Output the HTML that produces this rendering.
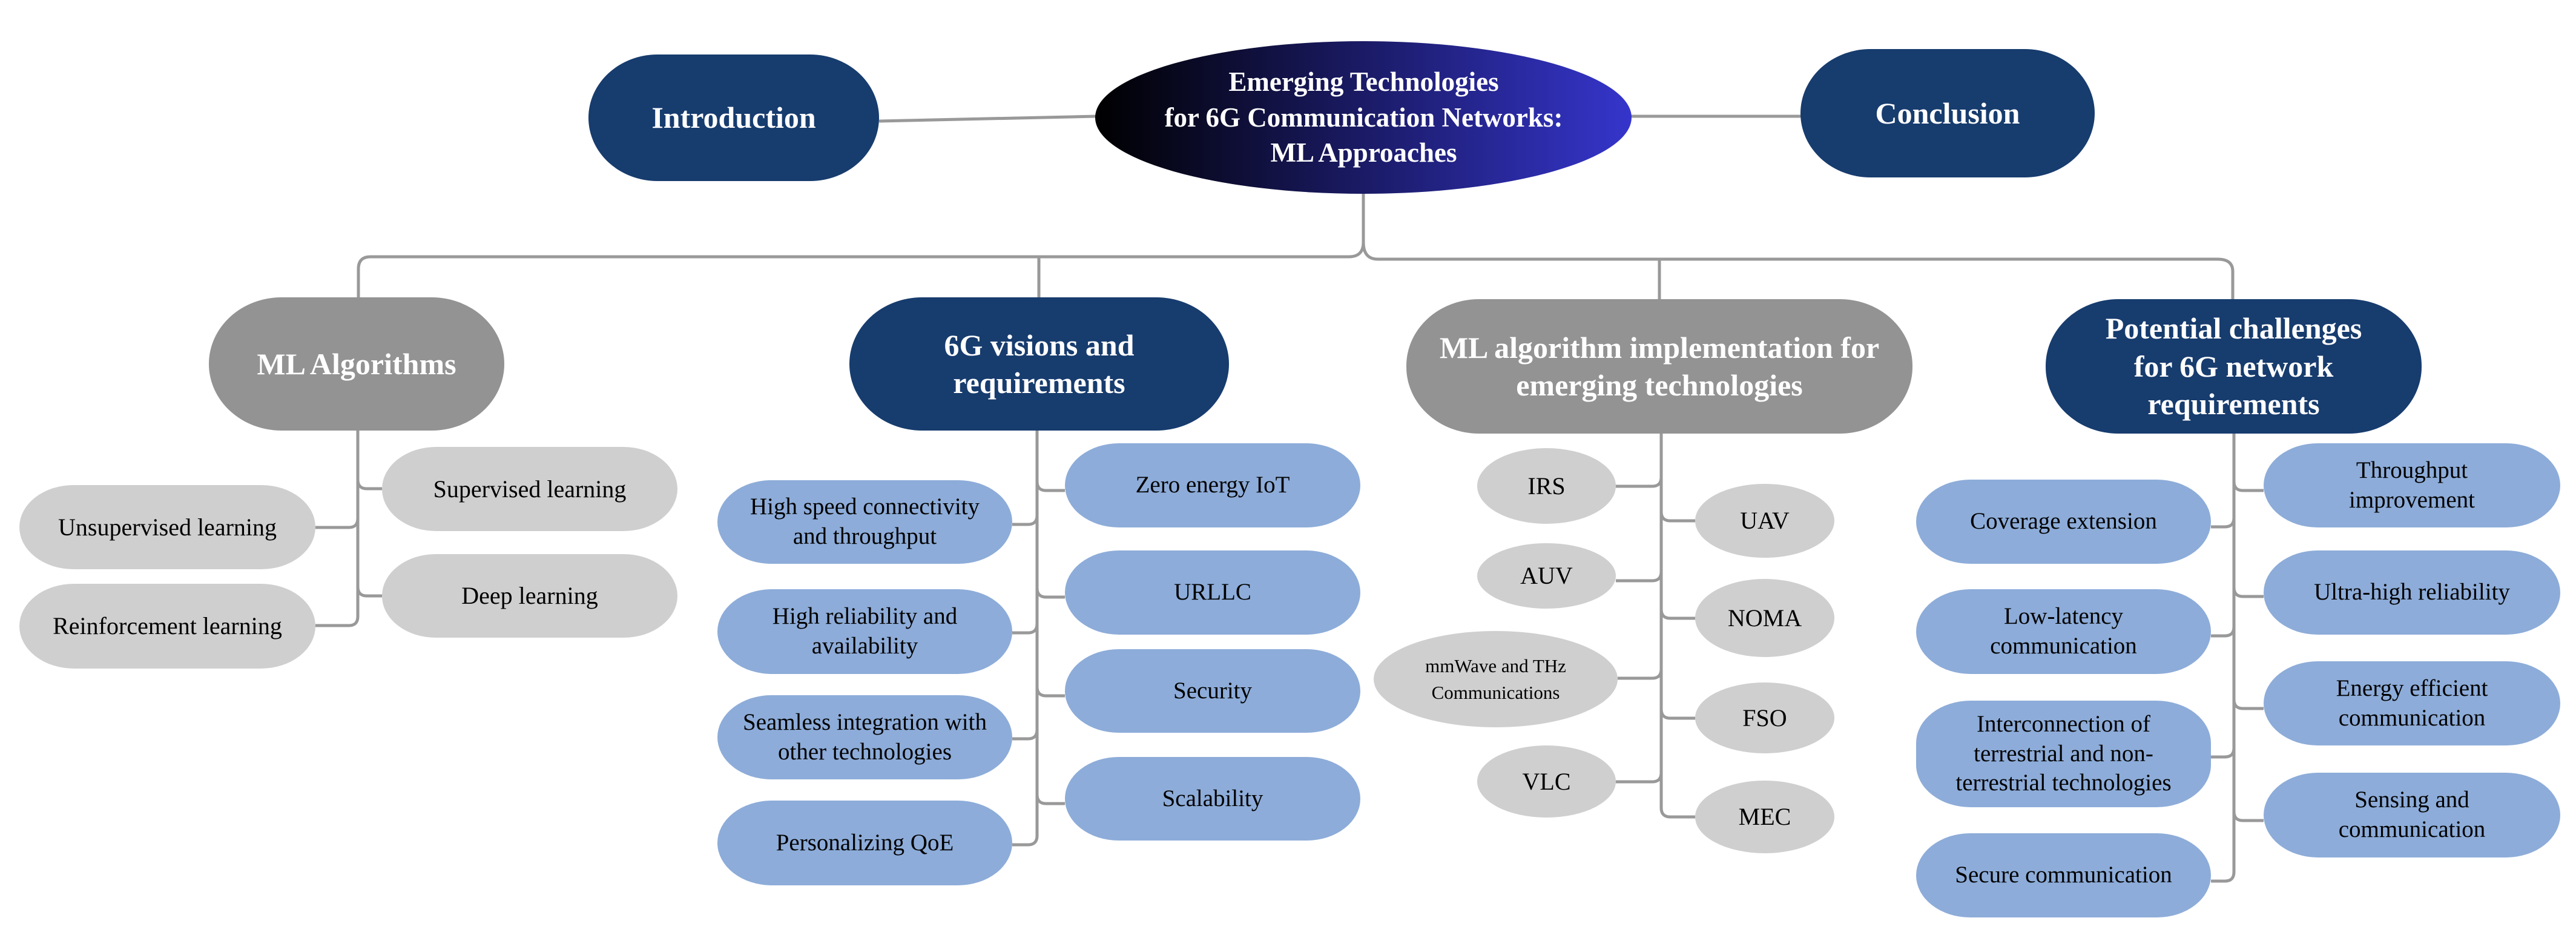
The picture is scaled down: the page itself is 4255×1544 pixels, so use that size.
<!DOCTYPE html>
<html><head><meta charset="utf-8">
<style>
html,body{margin:0;padding:0;background:#fff;}
#c{position:relative;width:4255px;height:1544px;overflow:hidden;font-family:"Liberation Serif",serif;}
.n{position:absolute;display:flex;align-items:center;justify-content:center;text-align:center;box-sizing:border-box;line-height:1.25;}
.h{color:#fff;font-weight:bold;font-size:50px;border-radius:120px/110px;}
.navy{background:#173c6e;}
.gray{background:#939393;}
.lb{background:#8dacd9;color:#000;font-size:39px;border-radius:90px/70px;}
.lg{background:#cfcfcf;color:#000;font-size:40px;border-radius:90px/70px;}
.el{background:#cfcfcf;color:#000;font-size:40px;border-radius:50%;}
svg{position:absolute;left:0;top:0;}
</style></head><body><div id="c">
<svg width="4255" height="1544" fill="none" stroke="#999" stroke-width="5">
<!-- top -->
<path d="M1452 200 L1812 192"/>
<path d="M2690 192 L2976 192"/>
<path d="M2252 318 L2252 400 Q2252 424 2228 424 L612 424 Q592 424 592 444 L592 493"/>
<path d="M2252 400 Q2252 428 2276 428 L3663 428 Q3688 428 3688 448 L3688 496"/>
<path d="M1716 424 Q1716 428 1716 444 L1716 493"/>
<path d="M2741 428 Q2741 430 2741 448 L2741 496"/>
<!-- ML algorithms -->
<path d="M591 711 L591 1018 Q591 1033 576 1033 L521 1033"/>
<path d="M591 856 Q591 871 576 871 L521 871"/>
<path d="M591 792 Q591 807 606 807 L631 807"/>
<path d="M591 969 Q591 984 606 984 L631 984"/>
<!-- 6G visions -->
<path d="M1713 711 L1713 1380 Q1713 1395 1698 1395 L1672 1395"/>
<path d="M1713 851 Q1713 866 1698 866 L1672 866"/>
<path d="M1713 1030 Q1713 1045 1698 1045 L1672 1045"/>
<path d="M1713 1205 Q1713 1220 1698 1220 L1672 1220"/>
<path d="M1713 795 Q1713 810 1728 810 L1759 810"/>
<path d="M1713 971 Q1713 986 1728 986 L1759 986"/>
<path d="M1713 1134 Q1713 1149 1728 1149 L1759 1149"/>
<path d="M1713 1312 Q1713 1327 1728 1327 L1759 1327"/>
<!-- ML impl -->
<path d="M2744 716 L2744 1334 Q2744 1349 2759 1349 L2800 1349"/>
<path d="M2744 788 Q2744 803 2729 803 L2669 803"/>
<path d="M2744 944 Q2744 959 2729 959 L2669 959"/>
<path d="M2744 1105 Q2744 1120 2729 1120 L2672 1120"/>
<path d="M2744 1276 Q2744 1291 2729 1291 L2669 1291"/>
<path d="M2744 845 Q2744 860 2759 860 L2800 860"/>
<path d="M2744 1006 Q2744 1021 2759 1021 L2800 1021"/>
<path d="M2744 1171 Q2744 1186 2759 1186 L2800 1186"/>
<!-- Potential -->
<path d="M3690 716 L3690 1440 Q3690 1455 3675 1455 L3652 1455"/>
<path d="M3690 855 Q3690 870 3675 870 L3652 870"/>
<path d="M3690 1035 Q3690 1050 3675 1050 L3652 1050"/>
<path d="M3690 1235 Q3690 1250 3675 1250 L3652 1250"/>
<path d="M3690 795 Q3690 810 3705 810 L3739 810"/>
<path d="M3690 970 Q3690 985 3705 985 L3739 985"/>
<path d="M3690 1155 Q3690 1170 3705 1170 L3739 1170"/>
<path d="M3690 1340 Q3690 1355 3705 1355 L3739 1355"/>
<defs><linearGradient id="g" x1="0" x2="1" y1="0" y2="0"><stop offset="0" stop-color="#000"/><stop offset="1" stop-color="#3535cc"/></linearGradient></defs>
<ellipse cx="2252" cy="194" rx="443" ry="126" fill="url(#g)" stroke="none"/>
</svg>
<div class="n" style="left:1810px;top:68px;width:885px;height:252px;color:#fff;font-weight:bold;font-size:45px;line-height:1.3;">Emerging Technologies<br>for 6G Communication Networks:<br>ML Approaches</div>
<div class="n h navy" style="left:972px;top:90px;width:480px;height:209px;">Introduction</div>
<div class="n h navy" style="left:2974px;top:81px;width:486px;height:212px;">Conclusion</div>

<div class="n h gray" style="left:345px;top:491px;width:488px;height:220px;">ML Algorithms</div>
<div class="n h navy" style="left:1403px;top:491px;width:627px;height:220px;">6G visions and<br>requirements</div>
<div class="n h gray" style="left:2323px;top:494px;width:836px;height:222px;">ML algorithm implementation for<br>emerging technologies</div>
<div class="n h navy" style="left:3379px;top:494px;width:621px;height:222px;">Potential challenges<br>for 6G network<br>requirements</div>

<div class="n lg" style="left:631px;top:738px;width:488px;height:139px;">Supervised learning</div>
<div class="n lg" style="left:32px;top:801px;width:489px;height:139px;">Unsupervised learning</div>
<div class="n lg" style="left:631px;top:915px;width:488px;height:138px;">Deep learning</div>
<div class="n lg" style="left:32px;top:964px;width:489px;height:140px;">Reinforcement learning</div>

<div class="n lb" style="left:1185px;top:793px;width:487px;height:138px;">High speed connectivity<br>and throughput</div>
<div class="n lb" style="left:1185px;top:973px;width:487px;height:140px;">High reliability and<br>availability</div>
<div class="n lb" style="left:1185px;top:1148px;width:487px;height:139px;">Seamless integration with<br>other technologies</div>
<div class="n lb" style="left:1185px;top:1322px;width:487px;height:140px;">Personalizing QoE</div>
<div class="n lb" style="left:1759px;top:732px;width:488px;height:139px;">Zero energy IoT</div>
<div class="n lb" style="left:1759px;top:909px;width:488px;height:139px;">URLLC</div>
<div class="n lb" style="left:1759px;top:1072px;width:488px;height:138px;">Security</div>
<div class="n lb" style="left:1759px;top:1250px;width:488px;height:138px;">Scalability</div>

<div class="n el" style="left:2440px;top:740px;width:229px;height:125px;">IRS</div>
<div class="n el" style="left:2440px;top:897px;width:229px;height:108px;">AUV</div>
<div class="n el" style="left:2269px;top:1042px;width:403px;height:159px;font-size:31px;line-height:1.4;">mmWave and THz<br>Communications</div>
<div class="n el" style="left:2440px;top:1231px;width:229px;height:119px;">VLC</div>
<div class="n el" style="left:2800px;top:799px;width:230px;height:122px;">UAV</div>
<div class="n el" style="left:2800px;top:956px;width:230px;height:129px;">NOMA</div>
<div class="n el" style="left:2800px;top:1127px;width:230px;height:117px;">FSO</div>
<div class="n el" style="left:2800px;top:1289px;width:230px;height:120px;">MEC</div>

<div class="n lb" style="left:3165px;top:792px;width:487px;height:139px;">Coverage extension</div>
<div class="n lb" style="left:3165px;top:973px;width:487px;height:140px;">Low-latency<br>communication</div>
<div class="n lb" style="left:3165px;top:1157px;width:487px;height:176px;">Interconnection of<br>terrestrial and non-<br>terrestrial technologies</div>
<div class="n lb" style="left:3165px;top:1376px;width:487px;height:139px;">Secure communication</div>
<div class="n lb" style="left:3739px;top:732px;width:490px;height:139px;">Throughput<br>improvement</div>
<div class="n lb" style="left:3739px;top:909px;width:490px;height:139px;">Ultra-high reliability</div>
<div class="n lb" style="left:3739px;top:1092px;width:490px;height:139px;">Energy efficient<br>communication</div>
<div class="n lb" style="left:3739px;top:1276px;width:490px;height:140px;">Sensing and<br>communication</div>
</div></body></html>
